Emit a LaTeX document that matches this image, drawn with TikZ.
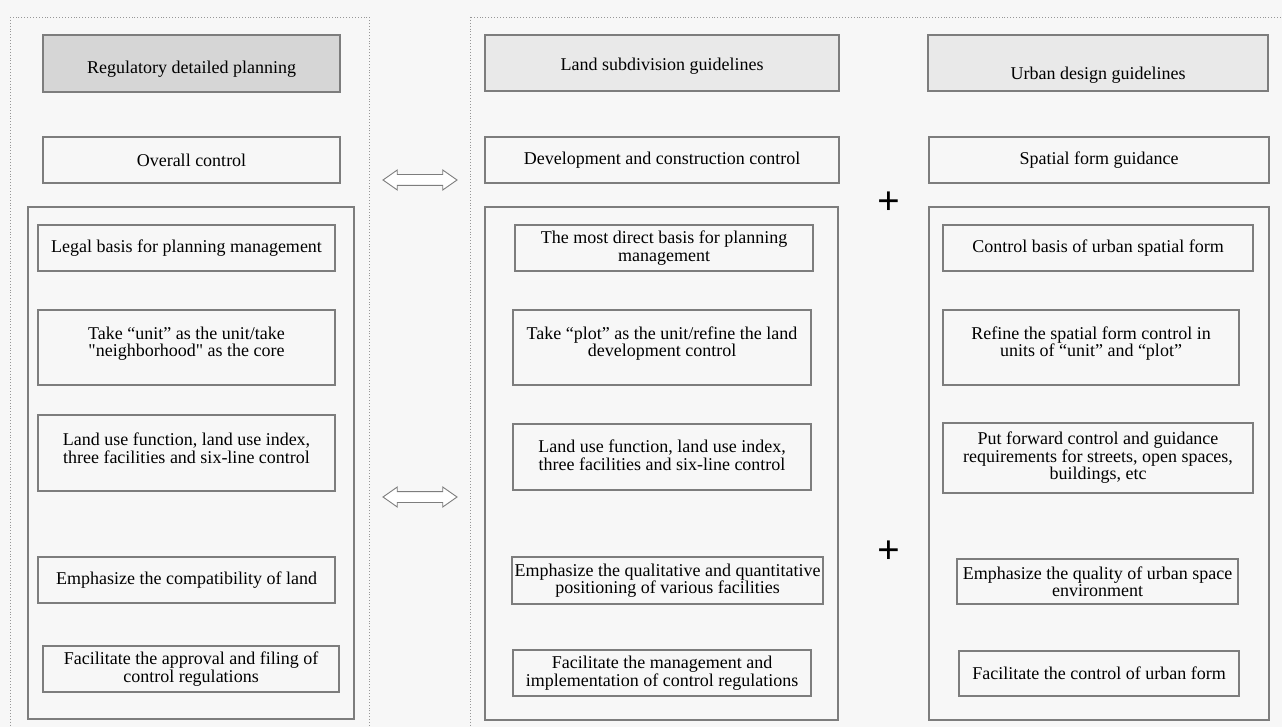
\documentclass[tikz,border=0pt]{standalone}
\usepackage{fontspec}
\setmainfont{Liberation Serif}
\newfontfamily\boxfont{Liberation Serif}
\usetikzlibrary{positioning,shapes.arrows}
\tikzset{>=latex}
\definecolor{bggray}{RGB}{247,247,247}
\definecolor{linegray}{RGB}{125,125,125}
\definecolor{headdark}{RGB}{214,214,214}
\definecolor{headlight}{RGB}{233,233,233}
\tikzset{
  box/.style={draw=linegray, line width=1.2pt},
  lbl/.style={black, align=center, inner sep=0pt, font=\boxfont\fontsize{18}{17.5}\selectfont},
  frame/.style={draw=linegray!80, dotted, line width=0.9pt},
  dblarrow/.style={double arrow, draw=linegray, fill=white, line width=0.9pt,
    minimum height=74pt, inner xsep=0pt, inner ysep=5pt,
    double arrow head extend=4.5pt, double arrow tip angle=70},
  plus/.style={inner sep=0pt, font=\boxfont\bfseries\fontsize{40}{40}\selectfont}
}

\begin{document}
\begin{tikzpicture}[x=1pt,y=-1pt]
      \useasboundingbox (0,0) rectangle (1282,727);
      \clip (0,0) rectangle (1282,727);
      \fill[bggray] (0,0) rectangle (1282,727);
      % dotted frames
      \draw[frame] (10,17) rectangle (369,740);
      \draw[frame] (470,17) rectangle (1295,740);
      %
      % left column
      \draw[box, fill=headdark] (43,35) rectangle (340,92) node[lbl,midway,yshift=-6pt] (hdl) {Regulatory detailed planning};
      \draw[box] (43,137) rectangle (340,183) node[lbl,midway] (ovl) {Overall control};
      \draw[box] (28,207) rectangle (354,719);
      \draw[box] (38,225) rectangle (335,271) node[lbl,midway] (l1) {Legal basis for planning management};
      \draw[box] (38,310) rectangle (335,385) node[lbl,midway,yshift=4pt] (l2) {Take “unit” as the unit/take\\"neighborhood" as the core};
      \draw[box] (38,415) rectangle (335,491) node[lbl,midway,yshift=5pt] (l3) {Land use function, land use index,\\three facilities and six-line control};
      \draw[box] (38,557) rectangle (335,603) node[lbl,midway] (l4) {Emphasize the compatibility of land};
      \draw[box] (43,646) rectangle (339,692) node[lbl,midway] (l5) {Facilitate the approval and filing of\\control regulations};
      %
      % middle column
      \draw[box, fill=headlight] (485,35) rectangle (839,91) node[lbl,midway,yshift=-3pt] (hdm) {Land subdivision guidelines};
      \draw[box] (485,137) rectangle (839,183) node[lbl,midway] (ovm) {Development and construction control};
      \draw[box] (485,207) rectangle (838,720);
      \draw[box] (515,225) rectangle (813,271) node[lbl,midway] (m1) {The most direct basis for planning\\management};
      \draw[box] (513,310) rectangle (811,385) node[lbl,midway,yshift=4pt] (m2) {Take “plot” as the unit/refine the land\\development control};
      \draw[box] (513,424) rectangle (811,490) node[lbl,midway,yshift=2pt] (m3) {Land use function, land use index,\\three facilities and six-line control};
      \draw[box] (512,557) rectangle (823,604) node[lbl,midway] (m4) {Emphasize the qualitative and quantitative\\positioning of various facilities};
      \draw[box] (513,650) rectangle (811,696) node[lbl,midway] (m5) {Facilitate the management and\\implementation of control regulations};
      %
      % right column
      \draw[box, fill=headlight] (928,35) rectangle (1268,91) node[lbl,midway,yshift=-12pt] (hdr) {Urban design guidelines};
      \draw[box] (929,137) rectangle (1269,183) node[lbl,midway] (ovr) {Spatial form guidance};
      \draw[box] (929,207) rectangle (1269,720);
      \draw[box] (943,225) rectangle (1253,271) node[lbl,midway] (r1) {Control basis of urban spatial form};
      \draw[box] (943,310) rectangle (1239,385) node[lbl,midway,yshift=4pt] (r2) {Refine the spatial form control in\\units of “unit” and “plot”};
      \draw[box] (943,423) rectangle (1253,493) node[lbl,midway] (r3) {Put forward control and guidance\\requirements for streets, open spaces,\\buildings, etc};
      \draw[box] (957,559) rectangle (1238,604) node[lbl,midway] (r4) {Emphasize the quality of urban space\\environment};
      \draw[box] (959,651) rectangle (1239,696) node[lbl,midway] (r5) {Facilitate the control of urban form};
      %
      % links between columns
      \node[dblarrow] (arrtop) at (420,180) {};
      \node[dblarrow] (arrbot) at (420,497) {};
      \node[plus] (plustop) at (889,203) {+};
      \node[plus] (plusbot) at (889,552) {+};
    \end{tikzpicture}
\end{document}
